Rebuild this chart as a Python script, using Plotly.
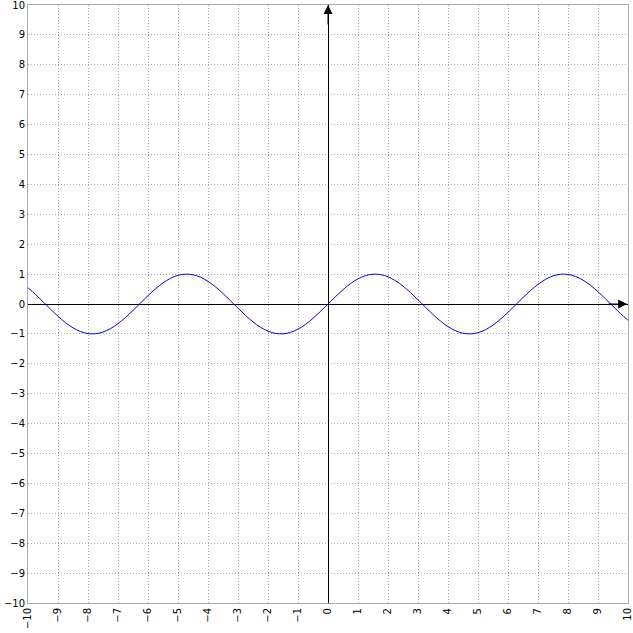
import plotly.graph_objects as go

x_vals = [-10, -9.75, -9.5, -9.25, -9, -8.75, -8.5, -8.25, -8, -7.75, -7.5, -7.25, -7, -6.75, -6.5, -6.25,
          -6, -5.75, -5.5, -5.25, -5, -4.75, -4.5, -4.25, -4, -3.75, -3.5, -3.25, -3, -2.75, -2.5, -2.25,
          -2, -1.75, -1.5, -1.25, -1, -0.75, -0.5, -0.25, 0, 0.25, 0.5, 0.75, 1, 1.25, 1.5, 1.75,
          2, 2.25, 2.5, 2.75, 3, 3.25, 3.5, 3.75, 4, 4.25, 4.5, 4.75, 5, 5.25, 5.5, 5.75,
          6, 6.25, 6.5, 6.75, 7, 7.25, 7.5, 7.75, 8, 8.25, 8.5, 8.75, 9, 9.25, 9.5, 9.75, 10]
y_vals = [0.544, 0.320, 0.075, -0.174, -0.412, -0.625, -0.798, -0.922, -0.989, -0.995, -0.938, -0.823, -0.657, -0.450, -0.215, 0.033,
          0.279, 0.508, 0.706, 0.859, 0.959, 0.999, 0.978, 0.895, 0.757, 0.572, 0.351, 0.108, -0.141, -0.382, -0.598, -0.778,
          -0.909, -0.984, -0.997, -0.949, -0.841, -0.682, -0.479, -0.247, 0.0, 0.247, 0.479, 0.682, 0.841, 0.949, 0.997, 0.984,
          0.909, 0.778, 0.598, 0.382, 0.141, -0.108, -0.351, -0.572, -0.757, -0.895, -0.978, -0.999, -0.959, -0.859, -0.706, -0.508,
          -0.279, -0.033, 0.215, 0.450, 0.657, 0.823, 0.938, 0.995, 0.989, 0.922, 0.798, 0.625, 0.412, 0.174, -0.075, -0.320, -0.544]

tick_vals = list(range(-10, 11))
tick_text = [str(v).replace('-', '\u2212') for v in tick_vals]

fig = go.Figure()
fig.add_trace(go.Scatter(x=x_vals, y=y_vals, mode='lines',
                         line=dict(color='#0000ff', width=1, shape='spline'),
                         hoverinfo='skip'))

axis_common = dict(range=[-10, 10], tickvals=tick_vals, ticktext=tick_text,
                   showgrid=True, gridcolor='#aaaaaa', griddash='1px,2px', gridwidth=1,
                   zeroline=True, zerolinecolor='#000000', zerolinewidth=1,
                   showline=True, linecolor='#aaaaaa', linewidth=1, mirror=True,
                   automargin=False, ticklabeloverflow='allow',
                   ticks='', tickfont=dict(family='DejaVu Sans', size=10, color='#000000'))

fig.update_xaxes(**axis_common, tickangle=-90)
fig.update_yaxes(**axis_common)

fig.add_annotation(x=0, y=10, ax=0, ay=9.3, xref='x', yref='y', axref='x', ayref='y',
                   showarrow=True, arrowhead=2, arrowsize=1.8, arrowwidth=1, arrowcolor='#000000', text='')
fig.add_annotation(x=9.97, y=0, ax=9.3, ay=0, xref='x', yref='y', axref='x', ayref='y',
                   showarrow=True, arrowhead=2, arrowsize=1.8, arrowwidth=1, arrowcolor='#000000', text='')

fig.update_layout(width=633, height=633, margin=dict(l=28, r=5, t=5, b=30),
                  plot_bgcolor='#ffffff', paper_bgcolor='#ffffff', showlegend=False)

fig.write_html("out.html", config={'displayModeBar': False},
               post_script="document.body.style.margin='0';document.body.style.overflow='hidden';")
